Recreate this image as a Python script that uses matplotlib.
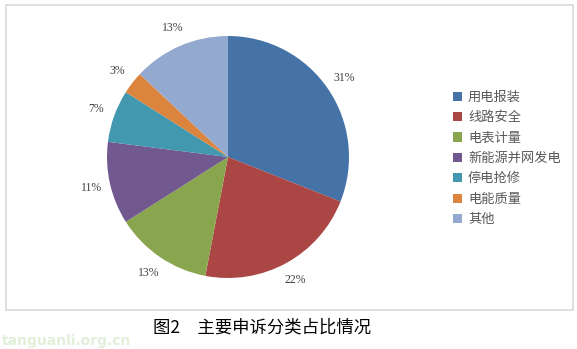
import matplotlib.pyplot as plt
from matplotlib.patches import Rectangle

categories = ["用电报装", "线路安全", "电表计量", "新能源并网发电", "停电抢修", "电能质量", "其他"]
shares = [31, 22, 13, 11, 7, 3, 13]
colors = ["#4572A7", "#AA4643", "#89A54E", "#71588F", "#4198AF", "#DB843D", "#93A9CF"]

W, H = 577, 349
fig = plt.figure(figsize=(W / 100, H / 100), dpi=100)

# frame around the chart
fig.patches.append(Rectangle((6 / W, 1 - 310 / H), 567 / W, 305 / H,
                             transform=fig.transFigure, fill=False,
                             edgecolor="#d9d9d9", linewidth=1.2))

# pie
cx, cy, r = 228, 157, 121
ax = fig.add_axes([(cx - r) / W, (H - cy - r) / H, 2 * r / W, 2 * r / H])
wedges, _, autotexts = ax.pie(shares, colors=colors, startangle=90, counterclock=False,
                              autopct="%d%%", pctdistance=1.16, radius=1,
                              textprops=dict(family="Liberation Serif", fontsize=8.5, color="#404040"))
ax.set_xlim(-1, 1)
ax.set_ylim(-1, 1)

leg = fig.legend(wedges, categories, loc="upper left", bbox_to_anchor=(441 / W, 1 - 79 / H),
                 frameon=False, handlelength=0.7, handleheight=0.7, handletextpad=0.45,
                 labelspacing=0.56, prop=dict(family="Noto Sans CJK SC", size=9.5))
for t in leg.get_texts():
    t.set_color("#595959")

fig.text(262 / W, 1 - 328 / H, "图2　主要申诉分类占比情况", ha="center", va="center",
         family=["Noto Sans CJK SC", "DejaVu Sans"], fontsize=12.5, color="black")
fig.text(2 / W, 1 - 341 / H, "tanguanli.org.cn", ha="left", va="center",
         family="DejaVu Sans", fontsize=10, fontweight="bold", color="#e2efd9")

fig.savefig("out.png", dpi=100)
